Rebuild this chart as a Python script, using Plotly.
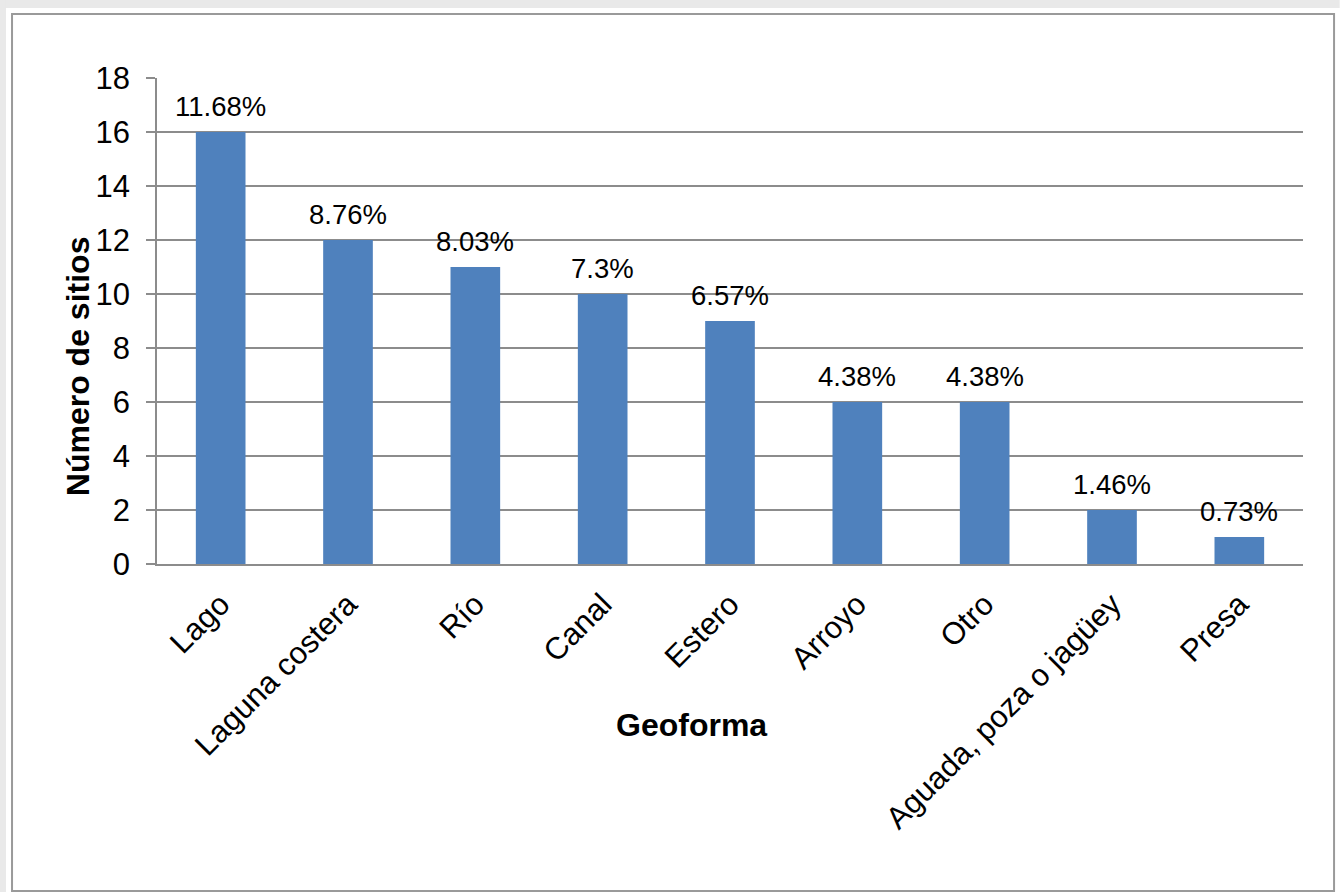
import plotly.graph_objects as go

categories = ["Lago", "Laguna costera", "Río", "Canal", "Estero", "Arroyo", "Otro",
              "Aguada, poza o jagüey", "Presa"]
sitios = [16, 12, 11, 10, 9, 6, 6, 2, 1]
porcentajes = ["11.68%", "8.76%", "8.03%", "7.3%", "6.57%", "4.38%", "4.38%", "1.46%", "0.73%"]

FONT = "Liberation Sans, Arial, sans-serif"
GRID = "#8c8c8c"

fig = go.Figure()
fig.add_trace(go.Bar(x=categories, y=sitios, marker=dict(color="#4F81BD", line=dict(width=0)),
                     showlegend=False, hoverinfo="x+y"))

for c, v, p in zip(categories, sitios, porcentajes):
    fig.add_annotation(x=c, y=v, text=p, showarrow=False, yanchor="bottom", yshift=8,
                       font=dict(family=FONT, size=27.5, color="#000000"))

# axis titles
fig.add_annotation(xref="paper", yref="paper", x=-0.0864, y=0.407, text="<b>Número de sitios</b>",
                   textangle=-90, showarrow=False, font=dict(family=FONT, size=32, color="#000000"))
fig.add_annotation(xref="paper", yref="paper", x=0.4668, y=-0.3724, text="<b>Geoforma</b>",
                   showarrow=False, font=dict(family=FONT, size=32, color="#000000"))

# frame and shadow
fig.add_shape(type="rect", xref="paper", yref="paper", x0=-0.137, x1=1.032, y0=1.144, y1=1.1605,
              fillcolor="#e9e9e9", line=dict(width=0), layer="below")
fig.add_shape(type="rect", xref="paper", yref="paper", x0=-0.137, x1=-0.1318, y0=-0.68, y1=1.1605,
              fillcolor="#e9e9e9", line=dict(width=0), layer="below")
fig.add_shape(type="rect", xref="paper", yref="paper", x0=-0.1265, x1=1.0271, y0=-0.6728, y1=1.1317,
              fillcolor="white", line=dict(color="#9a9a9a", width=2), layer="below")

fig.update_layout(
    width=1340, height=892,
    margin=dict(l=157, r=37, t=78, b=328),
    paper_bgcolor="white", plot_bgcolor="rgba(0,0,0,0)",
    bargap=0.61,
    font=dict(family=FONT, color="#000000"),
)
fig.update_yaxes(range=[0, 18], dtick=2, showgrid=True, gridcolor=GRID, gridwidth=1.5,
                 showline=True, linecolor=GRID, linewidth=1.5, ticks="outside", ticklen=9,
                 tickcolor=GRID, tickwidth=1.5, tickfont=dict(family=FONT, size=31, color="#000000"),
                 ticklabelstandoff=10, zeroline=False, fixedrange=True)
fig.update_xaxes(showline=True, linecolor=GRID, linewidth=1.5, ticks="", tickangle=-45,
                 tickfont=dict(family=FONT, size=31, color="#000000"), ticklabelstandoff=8,
                 showgrid=False, fixedrange=True)

fig.write_html("out.html")
